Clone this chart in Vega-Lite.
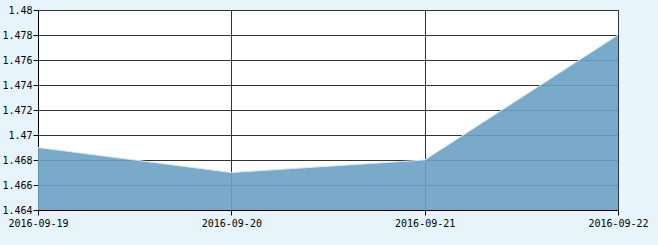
{
  "$schema": "https://vega.github.io/schema/vega-lite/v6.json",
  "autosize": {"type": "none"},
  "width": 580,
  "height": 200,
  "padding": {"left": 38, "top": 10, "right": 40, "bottom": 35},
  "background": "#e8f4fc",
  "data": {
    "values": [
      {"date": "2016-09-19", "value": 1.469},
      {"date": "2016-09-20", "value": 1.467},
      {"date": "2016-09-21", "value": 1.468},
      {"date": "2016-09-22", "value": 1.478}
    ]
  },
  "mark": {"type": "area", "clip": true, "color": "#6aa1c3", "opacity": 0.9, "line": {"color": "#d8e8f2", "strokeWidth": 1}},
  "encoding": {
    "x": {
      "field": "date", "type": "ordinal",
      "scale": {"type": "point", "padding": 0},
      "axis": {"title": null, "labelAngle": 0, "grid": true, "gridColor": "#333333", "gridOpacity": 1,
        "domainColor": "#000000", "tickColor": "#000000", "tickSize": 5, "labelPadding": 3,
        "labelFont": "DejaVu Sans Mono", "labelFontSize": 10, "labelColor": "#000000"}
    },
    "y": {
      "field": "value", "type": "quantitative",
      "scale": {"domain": [1.464, 1.48], "zero": false, "nice": false},
      "axis": {"title": null, "values": [1.464, 1.466, 1.468, 1.47, 1.472, 1.474, 1.476, 1.478, 1.48],
        "format": "~f", "grid": true, "gridColor": "#333333", "gridOpacity": 1,
        "domainColor": "#000000", "tickColor": "#000000", "tickSize": 5, "labelPadding": 1,
        "labelFont": "DejaVu Sans Mono", "labelFontSize": 10, "labelColor": "#000000"}
    }
  },
  "config": {"view": {"stroke": "#000000", "strokeWidth": 1, "fill": "#ffffff"}}
}
